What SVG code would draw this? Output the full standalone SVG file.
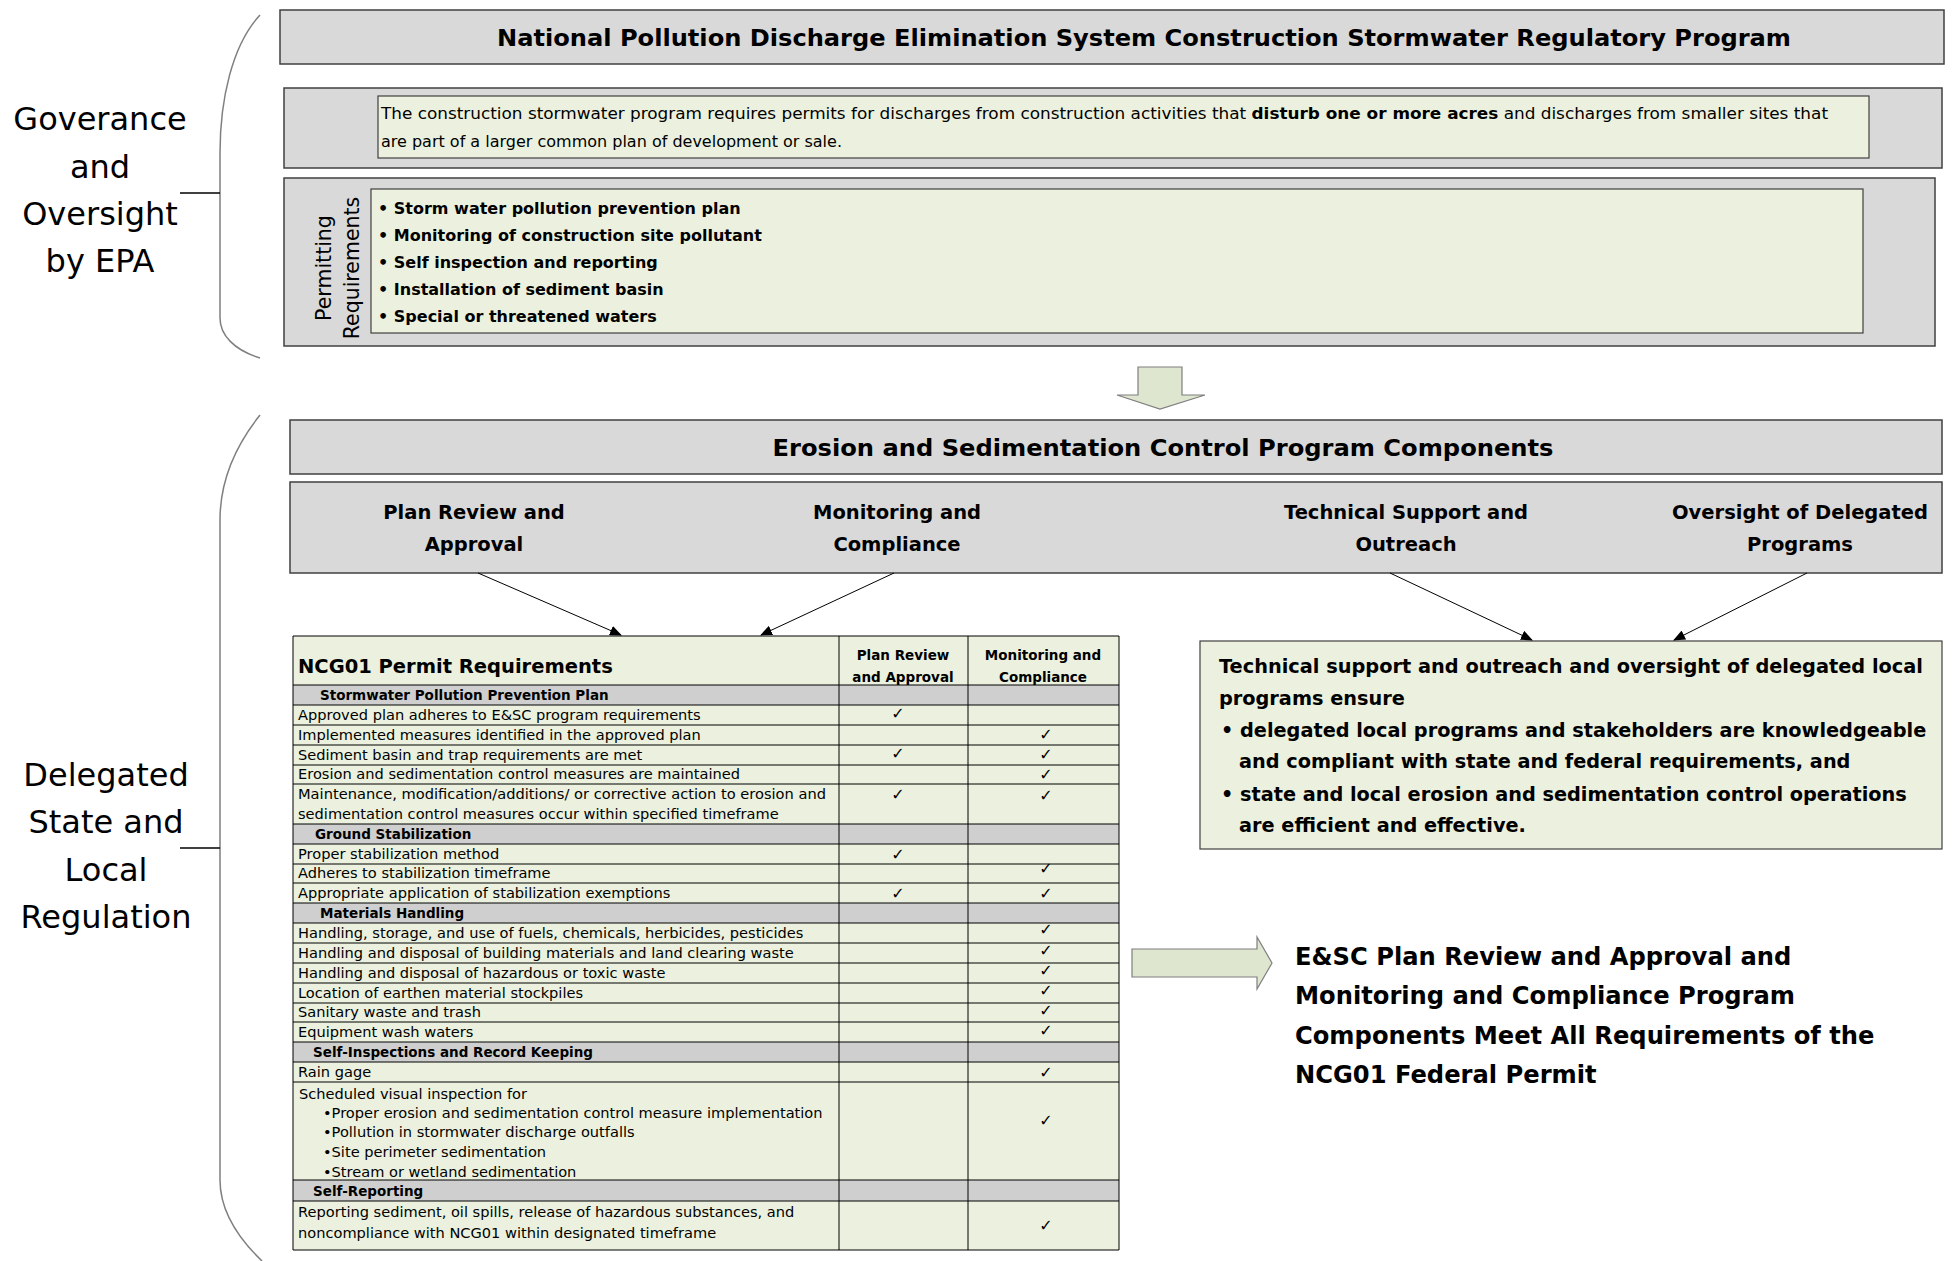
<svg xmlns="http://www.w3.org/2000/svg" width="1954" height="1261" viewBox="0 0 1954 1261">
<defs>
<style>
.bg{fill:#ffffff}
.gbox{fill:#d9d9d9;stroke:#404040;stroke-width:1.5}
.green{fill:#ebf1de;stroke:#404040;stroke-width:1.2}
.brace{fill:none;stroke:#7f7f7f;stroke-width:1.5}
.tick{stroke:#000;stroke-width:1.3}
.t{font-family:"DejaVu Sans","Liberation Sans",sans-serif;fill:#000}
.b{font-weight:bold}
.lbl{font-size:32px;text-anchor:middle}
.ttl{font-size:23.5px;text-anchor:middle;font-weight:bold}
.comp{font-size:19.5px;text-anchor:middle;font-weight:bold}
.desc{font-size:16px}
.perm{font-size:16px;font-weight:bold}
.tb{font-size:14.6px}
.th{font-size:13.5px;font-weight:bold}
.chk{font-size:16px;text-anchor:middle;font-weight:bold}
.rb{font-size:19.3px;font-weight:bold}
.br{font-size:24.2px;font-weight:bold}
.row{stroke:#000;stroke-width:1}
.hdr{fill:#cfcfcf}
.conn{stroke:#000;stroke-width:1;fill:none}
.fat{fill:#dfe6cf;stroke:#7f7f7f;stroke-width:1.2}
</style>
<marker id="ah" markerWidth="12" markerHeight="10" refX="11" refY="5" orient="auto" markerUnits="userSpaceOnUse">
<path d="M0,0 L12,5 L0,10 Z" fill="#000"/>
</marker>
</defs>
<rect class="bg" x="0" y="0" width="1954" height="1261"/>

<g id="label-epa">
<path class="brace" d="M260 15 C232 45 220 100 220 153 L220 318 C220 335 234 350 260 358"/>
<line class="tick" x1="180" y1="193" x2="220" y2="193"/>
<text class="t lbl" x="100" y="130">Goverance</text>
<text class="t lbl" x="100" y="178">and</text>
<text class="t lbl" x="100" y="225">Oversight</text>
<text class="t lbl" x="100" y="272">by EPA</text>
</g>

<g id="label-state">
<path class="brace" d="M260 415 C232 450 220 485 220 520 L220 1180 C220 1210 238 1238 262 1261"/>
<line class="tick" x1="180" y1="848" x2="220" y2="848"/>
<text class="t lbl" x="106" y="786">Delegated</text>
<text class="t lbl" x="106" y="833">State and</text>
<text class="t lbl" x="106" y="881">Local</text>
<text class="t lbl" x="106" y="928">Regulation</text>
</g>

<g id="npdes-title">
<rect class="gbox" x="280" y="10" width="1664" height="54"/>
<text class="t ttl" x="1144" y="46" textLength="1294" lengthAdjust="spacingAndGlyphs">National Pollution Discharge Elimination System Construction Stormwater Regulatory Program</text>
</g>

<g id="npdes-description">
<rect class="gbox" x="284" y="88" width="1658" height="80"/>
<rect class="green" x="378" y="96" width="1491" height="62"/>
<text class="t desc" x="381" y="119" textLength="1447" lengthAdjust="spacingAndGlyphs">The construction stormwater program requires permits for discharges from construction activities that <tspan font-weight="bold">disturb one or more acres</tspan> and discharges from smaller sites that</text>
<text class="t desc" x="381" y="147">are part of a larger common plan of development or sale.</text>
</g>

<g id="permitting-requirements">
<rect class="gbox" x="284" y="178" width="1651" height="168"/>
<rect class="green" x="371" y="189" width="1492" height="144"/>
<text class="t" font-size="20.5" text-anchor="middle" transform="translate(331 268) rotate(-90)">Permitting</text>
<text class="t" font-size="20.5" text-anchor="middle" transform="translate(359 268) rotate(-90)">Requirements</text>
<text class="t perm" x="378" y="214">•  Storm water pollution prevention plan</text>
<text class="t perm" x="378" y="241">•  Monitoring of construction site pollutant</text>
<text class="t perm" x="378" y="268">•  Self inspection and reporting</text>
<text class="t perm" x="378" y="295">•  Installation of sediment basin</text>
<text class="t perm" x="378" y="322">•  Special or threatened waters</text>
</g>

<g id="down-arrow">
<path class="fat" d="M1138 367 L1182 367 L1182 395 L1205 395 L1160 409 L1117 395 L1138 395 Z"/>
</g>

<g id="esc-title">
<rect class="gbox" x="290" y="420" width="1652" height="54"/>
<text class="t ttl" x="1163" y="456" textLength="781" lengthAdjust="spacingAndGlyphs">Erosion and Sedimentation Control Program Components</text>
</g>

<g id="esc-components">
<rect class="gbox" x="290" y="482" width="1652" height="91"/>
<text class="t comp" x="474" y="519">Plan Review and</text>
<text class="t comp" x="474" y="551">Approval</text>
<text class="t comp" x="897" y="519">Monitoring and</text>
<text class="t comp" x="897" y="551">Compliance</text>
<text class="t comp" x="1406" y="519">Technical Support and</text>
<text class="t comp" x="1406" y="551">Outreach</text>
<text class="t comp" x="1800" y="519">Oversight of Delegated</text>
<text class="t comp" x="1800" y="551">Programs</text>
</g>

<g id="ncg01-table">
<rect x="293" y="636" width="826" height="614" fill="#ebf1de"/>
<rect class="hdr" x="293" y="685" width="826" height="20"/>
<rect class="hdr" x="293" y="824" width="826" height="20"/>
<rect class="hdr" x="293" y="903" width="826" height="20"/>
<rect class="hdr" x="293" y="1042" width="826" height="20"/>
<rect class="hdr" x="293" y="1180" width="826" height="21"/>
<g class="row">
<line x1="293" y1="636" x2="1119" y2="636"/>
<line x1="293" y1="685" x2="1119" y2="685"/>
<line x1="293" y1="705" x2="1119" y2="705"/>
<line x1="293" y1="725" x2="1119" y2="725"/>
<line x1="293" y1="745" x2="1119" y2="745"/>
<line x1="293" y1="765" x2="1119" y2="765"/>
<line x1="293" y1="784" x2="1119" y2="784"/>
<line x1="293" y1="824" x2="1119" y2="824"/>
<line x1="293" y1="844" x2="1119" y2="844"/>
<line x1="293" y1="864" x2="1119" y2="864"/>
<line x1="293" y1="883" x2="1119" y2="883"/>
<line x1="293" y1="903" x2="1119" y2="903"/>
<line x1="293" y1="923" x2="1119" y2="923"/>
<line x1="293" y1="943" x2="1119" y2="943"/>
<line x1="293" y1="963" x2="1119" y2="963"/>
<line x1="293" y1="983" x2="1119" y2="983"/>
<line x1="293" y1="1003" x2="1119" y2="1003"/>
<line x1="293" y1="1022" x2="1119" y2="1022"/>
<line x1="293" y1="1042" x2="1119" y2="1042"/>
<line x1="293" y1="1062" x2="1119" y2="1062"/>
<line x1="293" y1="1082" x2="1119" y2="1082"/>
<line x1="293" y1="1180" x2="1119" y2="1180"/>
<line x1="293" y1="1201" x2="1119" y2="1201"/>
<line x1="293" y1="1250" x2="1119" y2="1250"/>
<line x1="293" y1="636" x2="293" y2="1250"/>
<line x1="839" y1="636" x2="839" y2="1250"/>
<line x1="968" y1="636" x2="968" y2="1250"/>
<line x1="1119" y1="636" x2="1119" y2="1250"/>
</g>
<text class="t b" font-size="19.5" x="298" y="673">NCG01 Permit Requirements</text>
<text class="t th" x="903" y="660" text-anchor="middle">Plan Review</text>
<text class="t th" x="903" y="682" text-anchor="middle">and Approval</text>
<text class="t th" x="1043" y="660" text-anchor="middle">Monitoring and</text>
<text class="t th" x="1043" y="682" text-anchor="middle">Compliance</text>

<text class="t th" x="320" y="700">Stormwater Pollution Prevention Plan</text>
<text class="t tb" x="298" y="720">Approved plan adheres to E&amp;SC program requirements</text>
<text class="t tb" x="298" y="740">Implemented measures identified in the approved plan</text>
<text class="t tb" x="298" y="760">Sediment basin and trap requirements are met</text>
<text class="t tb" x="298" y="779">Erosion and sedimentation control measures are maintained</text>
<text class="t tb" x="298" y="799" textLength="528" lengthAdjust="spacingAndGlyphs">Maintenance, modification/additions/ or corrective action to erosion and</text>
<text class="t tb" x="298" y="819">sedimentation control measures occur within specified timeframe</text>
<text class="t th" x="315" y="839">Ground Stabilization</text>
<text class="t tb" x="298" y="859">Proper stabilization method</text>
<text class="t tb" x="298" y="878">Adheres to stabilization timeframe</text>
<text class="t tb" x="298" y="898">Appropriate application of stabilization exemptions</text>
<text class="t th" x="320" y="918">Materials Handling</text>
<text class="t tb" x="298" y="938">Handling, storage, and use of fuels, chemicals, herbicides, pesticides</text>
<text class="t tb" x="298" y="958">Handling and disposal of building materials and land clearing waste</text>
<text class="t tb" x="298" y="978">Handling and disposal of hazardous or toxic waste</text>
<text class="t tb" x="298" y="998">Location of earthen material stockpiles</text>
<text class="t tb" x="298" y="1017">Sanitary waste and trash</text>
<text class="t tb" x="298" y="1037">Equipment wash waters</text>
<text class="t th" x="313" y="1057">Self-Inspections and Record Keeping</text>
<text class="t tb" x="298" y="1077">Rain gage</text>
<text class="t tb" x="299" y="1099">Scheduled visual inspection for</text>
<text class="t tb" x="323" y="1118">•Proper erosion and sedimentation control measure implementation</text>
<text class="t tb" x="323" y="1137">•Pollution in stormwater discharge outfalls</text>
<text class="t tb" x="323" y="1157">•Site perimeter sedimentation</text>
<text class="t tb" x="323" y="1177">•Stream or wetland sedimentation</text>
<text class="t th" x="313" y="1196">Self-Reporting</text>
<text class="t tb" x="298" y="1217">Reporting sediment, oil spills, release of hazardous substances, and</text>
<text class="t tb" x="298" y="1238">noncompliance with NCG01 within designated timeframe</text>

<g class="t chk">
<text x="898" y="719">✓</text>
<text x="898" y="759">✓</text>
<text x="898" y="800">✓</text>
<text x="898" y="860">✓</text>
<text x="898" y="899">✓</text>
<text x="1046" y="740">✓</text>
<text x="1046" y="760">✓</text>
<text x="1046" y="780">✓</text>
<text x="1046" y="801">✓</text>
<text x="1046" y="874">✓</text>
<text x="1046" y="899">✓</text>
<text x="1046" y="935">✓</text>
<text x="1046" y="956">✓</text>
<text x="1046" y="976">✓</text>
<text x="1046" y="996">✓</text>
<text x="1046" y="1016">✓</text>
<text x="1046" y="1036">✓</text>
<text x="1046" y="1078">✓</text>
<text x="1046" y="1126">✓</text>
<text x="1046" y="1231">✓</text>
</g>
</g>

<g id="support-box">
<rect class="green" x="1200" y="641" width="742" height="208"/>
<text class="t rb" x="1219" y="673" textLength="704" lengthAdjust="spacingAndGlyphs">Technical support and outreach and oversight of delegated local</text>
<text class="t rb" x="1219" y="705">programs ensure</text>
<text class="t rb" x="1221" y="737">• delegated local programs and stakeholders are knowledgeable</text>
<text class="t rb" x="1239" y="768">and compliant with state and federal requirements, and</text>
<text class="t rb" x="1221" y="801">• state and local erosion and sedimentation control operations</text>
<text class="t rb" x="1239" y="832">are efficient and effective.</text>
</g>

<g id="result-arrow">
<path class="fat" d="M1132 949 L1257 949 L1257 937 L1272 963 L1257 989 L1257 977 L1132 977 Z"/>
</g>

<g id="result-text">
<text class="t br" x="1295" y="965">E&amp;SC Plan Review and Approval and</text>
<text class="t br" x="1295" y="1004">Monitoring and Compliance Program</text>
<text class="t br" x="1295" y="1044">Components Meet All Requirements of the</text>
<text class="t br" x="1295" y="1083">NCG01 Federal Permit</text>
</g>

<g id="connectors">
<line class="conn" x1="478" y1="573" x2="621" y2="635" marker-end="url(#ah)"/>
<line class="conn" x1="894" y1="573" x2="761" y2="635" marker-end="url(#ah)"/>
<line class="conn" x1="1390" y1="573" x2="1532" y2="640" marker-end="url(#ah)"/>
<line class="conn" x1="1807" y1="573" x2="1674" y2="640" marker-end="url(#ah)"/>
</g>
</svg>
